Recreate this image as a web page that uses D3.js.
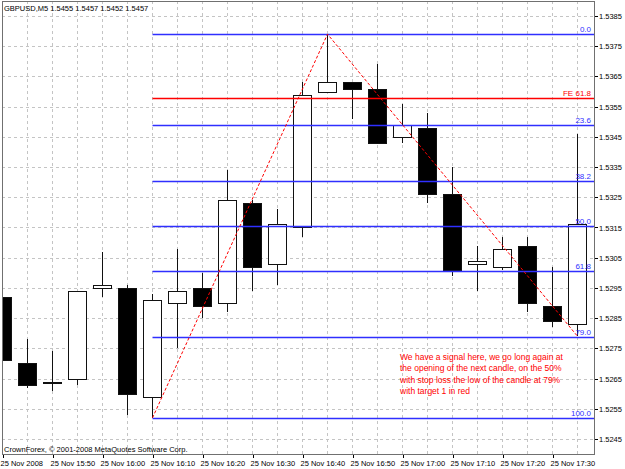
<!DOCTYPE html>
<html>
<head>
<meta charset="utf-8">
<script src="https://cdn.jsdelivr.net/npm/d3@7"></script>
<style>
  body { margin: 0; background: #fff; }
  svg { display: block; font-family: "Liberation Sans", Arial, sans-serif; }
  .grid line { stroke: #c4c4c4; stroke-dasharray: 3,3; shape-rendering: crispEdges; }
  .wick { stroke: #111; shape-rendering: crispEdges; }
  .body { stroke: #111; shape-rendering: crispEdges; }
</style>
</head>
<body>
<svg id="chart" width="625" height="469"></svg>
<script>
// -----------------------------------------------------------------------------
// Data (GBPUSD, M5, 25 Nov 2008)
// -----------------------------------------------------------------------------

var times = ["15:40", "15:45", "15:50", "15:55", "16:00", "16:05", "16:10", "16:15",
             "16:20", "16:25", "16:30", "16:35", "16:40", "16:45", "16:50", "16:55",
             "17:00", "17:05", "17:10", "17:15", "17:20", "17:25", "17:30", "17:35"];

var opens  = [1.5292, 1.5270, 1.5264, 1.5265, 1.5295, 1.5295, 1.5259, 1.5290,
              1.5295, 1.5290, 1.5323, 1.5303, 1.5315, 1.5360, 1.5363, 1.5361,
              1.5345, 1.5348, 1.5326, 1.5303, 1.5302, 1.5309, 1.5289, 1.5283];
var highs  = [1.5293, 1.5278, 1.5274, 1.5294, 1.5307, 1.5296, 1.5293, 1.5308,
              1.5300, 1.5334, 1.5324, 1.5321, 1.5363, 1.5379, 1.5363, 1.5369,
              1.5356, 1.5353, 1.5335, 1.5309, 1.5312, 1.5312, 1.5302, 1.5346];
var lows   = [1.5264, 1.5262, 1.5261, 1.5263, 1.5292, 1.5253, 1.5252, 1.5275,
              1.5285, 1.5287, 1.5294, 1.5296, 1.5312, 1.5360, 1.5351, 1.5343,
              1.5343, 1.5323, 1.5299, 1.5294, 1.5301, 1.5287, 1.5282, 1.5279];
var closes = [1.5271, 1.5263, 1.5264, 1.5294, 1.5296, 1.5260, 1.5291, 1.5294,
              1.5289, 1.5324, 1.5302, 1.5316, 1.5359, 1.5363, 1.5361, 1.5343,
              1.5349, 1.5326, 1.5301, 1.5304, 1.5308, 1.5290, 1.5284, 1.5316];

var priceTicks = [1.5385, 1.5375, 1.5365, 1.5355, 1.5345, 1.5335, 1.5325, 1.5315,
                  1.5305, 1.5295, 1.5285, 1.5275, 1.5265, 1.5255, 1.5245];

var timeTicks = ["15:40", "15:50", "16:00", "16:10", "16:20", "16:30",
                 "16:40", "16:50", "17:00", "17:10", "17:20", "17:30"];
var timeTickLabels = ["25 Nov 2008", "25 Nov 15:50", "25 Nov 16:00", "25 Nov 16:10",
                      "25 Nov 16:20", "25 Nov 16:30", "25 Nov 16:40", "25 Nov 16:50",
                      "25 Nov 17:00", "25 Nov 17:10", "25 Nov 17:20", "25 Nov 17:30"];

// fibonacci retracement low -> high, expansion A-B-C
var fibTimes = ["16:10", "16:45", "17:35"];
var fibPrices = [1.5252, 1.5379, 1.5279];
var fibLevels = [0, 23.6, 38.2, 50, 61.8, 79, 100];
var fibLabels = ["0.0", "23.6", "38.2", "50.0", "61.8", "79.0", "100.0"];
var expansionLevel = 61.8;

var headerText = "GBPUSD,M5  1.5455 1.5457 1.5452 1.5457";
var copyrightText = "CrownForex, \u00a9 2001-2008 MetaQuotes Software Corp.";
var noteLines = ["We have a signal here, we go long again at",
                 "the opening of the next candle, on the 50%",
                 "with stop loss the low of the candle at 79%",
                 "with target 1 in red"];

// -----------------------------------------------------------------------------
// Chart
// -----------------------------------------------------------------------------

var FIB_BLUE = "#2f2fff";
var RED = "#ff0000";

var frame = {left: 2, top: 1, right: 594, bottom: 454};

var parseTime = d3.timeParse("%Y-%m-%d %H:%M");
function t(hm) { return parseTime("2008-11-25 " + hm); }

var xScale = d3.scaleTime()
    .domain([t("15:40"), t("17:35")])
    .range([2.5, 577.5]);

var yScale = d3.scaleLinear()
    .domain([1.5245, 1.5385])
    .range([439, 16]);

var candles = times.map(function(d, i) {
  return {time: t(d), open: opens[i], high: highs[i], low: lows[i], close: closes[i]};
});

var svg = d3.select("#chart");

svg.append("rect")
    .attr("width", 625).attr("height", 469).attr("fill", "#fff");

svg.append("defs").append("clipPath").attr("id", "plot-clip")
  .append("rect")
    .attr("x", frame.left).attr("y", frame.top)
    .attr("width", frame.right - frame.left)
    .attr("height", frame.bottom - frame.top);

var plot = svg.append("g").attr("clip-path", "url(#plot-clip)");

// grid
var grid = plot.append("g").attr("class", "grid");
grid.selectAll(".hgrid")
    .data(priceTicks)
  .enter().append("line")
    .attr("x1", frame.left).attr("x2", frame.right)
    .attr("y1", function(d) { return Math.round(yScale(d)) + 0.5; })
    .attr("y2", function(d) { return Math.round(yScale(d)) + 0.5; });
grid.selectAll(".vgrid")
    .data(times)
  .enter().append("line")
    .attr("x1", function(d) { return xScale(t(d)); })
    .attr("x2", function(d) { return xScale(t(d)); })
    .attr("y1", frame.top).attr("y2", frame.bottom);

// candles
var candleG = plot.selectAll(".candle")
    .data(candles)
  .enter().append("g");

candleG.append("line")
    .attr("class", "wick")
    .attr("x1", function(d) { return xScale(d.time); })
    .attr("x2", function(d) { return xScale(d.time); })
    .attr("y1", function(d) { return yScale(d.high); })
    .attr("y2", function(d) { return yScale(d.low); });

candleG.append("rect")
    .attr("class", "body")
    .attr("x", function(d) { return xScale(d.time) - 9; })
    .attr("width", 18)
    .attr("y", function(d) { return Math.round(yScale(Math.max(d.open, d.close))) + 0.5; })
    .attr("height", function(d) {
      return Math.max(1, Math.round(yScale(Math.min(d.open, d.close))) - Math.round(yScale(Math.max(d.open, d.close))));
    })
    .attr("fill", function(d) { return d.close < d.open ? "#000" : "#fff"; });

// fibonacci retracement lines
var fibHigh = fibPrices[1], fibLow = fibPrices[0];
var fibStartX = xScale(t(fibTimes[0]));
function fibPrice(level) { return fibHigh - level / 100 * (fibHigh - fibLow); }

plot.selectAll(".fib")
    .data(fibLevels)
  .enter().append("line")
    .attr("x1", fibStartX).attr("x2", frame.right)
    .attr("y1", function(d) { return Math.round(yScale(fibPrice(d))) + 0.5; })
    .attr("y2", function(d) { return Math.round(yScale(fibPrice(d))) + 0.5; })
    .attr("stroke", FIB_BLUE)
    .attr("stroke-width", 1.4);

plot.selectAll(".fib-label")
    .data(fibLevels)
  .enter().append("text")
    .attr("x", frame.right - 3)
    .attr("y", function(d) { return Math.round(yScale(fibPrice(d))) - 2; })
    .attr("text-anchor", "end")
    .attr("font-size", "8px")
    .attr("fill", FIB_BLUE)
    .text(function(d, i) { return fibLabels[i]; });

// fibonacci expansion line
var fePrice = fibPrices[2] + expansionLevel / 100 * (fibHigh - fibLow);
plot.append("line")
    .attr("x1", fibStartX).attr("x2", frame.right)
    .attr("y1", Math.round(yScale(fePrice)) - 0.5)
    .attr("y2", Math.round(yScale(fePrice)) - 0.5)
    .attr("stroke", RED)
    .attr("stroke-width", 1.3);
plot.append("text")
    .attr("x", frame.right - 3)
    .attr("y", Math.round(yScale(fePrice)) - 3)
    .attr("text-anchor", "end")
    .attr("font-size", "8px")
    .attr("fill", RED)
    .text("FE " + expansionLevel.toFixed(1));

// zigzag A-B-C
var zig = d3.line()
    .x(function(d, i) { return xScale(t(fibTimes[i])); })
    .y(function(d) { return yScale(d); });

plot.append("path")
    .datum(fibPrices)
    .attr("d", zig)
    .attr("fill", "none")
    .attr("stroke", RED)
    .attr("stroke-width", 1)
    .attr("stroke-dasharray", "3,2");

// annotation
var note = plot.append("text")
    .attr("x", 400)
    .attr("y", 360)
    .attr("font-size", "8.5px")
    .attr("fill", RED);
note.selectAll("tspan")
    .data(noteLines)
  .enter().append("tspan")
    .attr("x", 400)
    .attr("dy", function(d, i) { return i === 0 ? 0 : 11.3; })
    .text(function(d) { return d; });

// header + copyright
svg.append("text")
    .attr("x", 4).attr("y", 11)
    .attr("font-size", "7.5px")
    .text(headerText);

svg.append("text")
    .attr("x", 4).attr("y", 452)
    .attr("font-size", "7.5px")
    .text(copyrightText);

// frame
svg.append("rect")
    .attr("x", frame.left + 0.5).attr("y", frame.top + 0.5)
    .attr("width", frame.right - frame.left)
    .attr("height", frame.bottom - frame.top)
    .attr("fill", "none")
    .attr("stroke", "#707070");

// right price axis
var yAxis = svg.append("g");
yAxis.selectAll("line")
    .data(priceTicks)
  .enter().append("line")
    .attr("x1", frame.right + 1).attr("x2", frame.right + 4)
    .attr("y1", function(d) { return Math.round(yScale(d)) + 0.5; })
    .attr("y2", function(d) { return Math.round(yScale(d)) + 0.5; })
    .attr("stroke", "#000");
yAxis.selectAll("text")
    .data(priceTicks)
  .enter().append("text")
    .attr("x", frame.right + 5)
    .attr("y", function(d) { return yScale(d) + 3; })
    .attr("font-size", "7.5px")
    .text(function(d) { return d3.format(".4f")(d); });

// bottom time axis
var xAxis = svg.append("g");
xAxis.selectAll("line")
    .data(timeTicks)
  .enter().append("line")
    .attr("x1", function(d) { return Math.round(xScale(t(d))) + 0.5; })
    .attr("x2", function(d) { return Math.round(xScale(t(d))) + 0.5; })
    .attr("y1", frame.bottom + 1).attr("y2", frame.bottom + 4)
    .attr("stroke", "#000");
xAxis.selectAll("text")
    .data(timeTicks)
  .enter().append("text")
    .attr("x", function(d) { return xScale(t(d)) - 2; })
    .attr("y", 466)
    .attr("font-size", "7.5px")
    .text(function(d, i) { return timeTickLabels[i]; });
</script>
</body>
</html>
